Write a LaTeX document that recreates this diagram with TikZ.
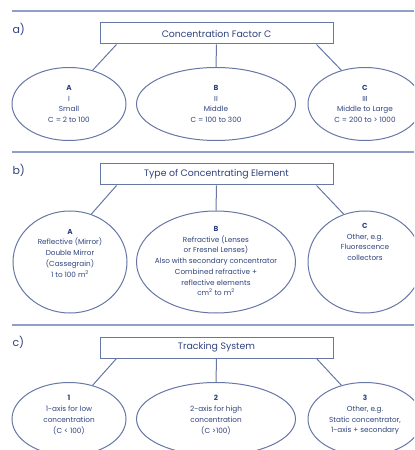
\documentclass[tikz,border=0pt]{standalone}
\usepackage{fontspec}
\setmainfont{Poppins}
\usetikzlibrary{positioning,calc,shapes.geometric}
\definecolor{inkblue}{HTML}{2F427C}
\definecolor{lineblue}{HTML}{6677A5}
\definecolor{ruleblue}{HTML}{8FA0C4}

\begin{document}
\begin{tikzpicture}[x=1bp,y=-1bp,
    headbox/.style={rectangle, draw=lineblue, line width=1bp, fill=white, minimum width=233bp, minimum height=21bp, inner sep=0pt, text=inkblue, font=\fontsize{9.4}{11}\selectfont},
    branch/.style={ellipse, draw=lineblue, line width=1bp, inner sep=0pt},
    itemtext/.style={align=center, text=inkblue, font=\fontsize{7.3}{10.8}\selectfont},
    partlabel/.style={anchor=west, text=inkblue, font=\fontsize{11}{13}\selectfont},
    link/.style={draw=lineblue, line width=1bp}
  ]
    \useasboundingbox (0,0) rectangle (414,450);
    \clip (0,0) rectangle (414,450);

    % Section a
    \draw[line width=1.6bp, ruleblue] (12,11) -- (414,11);
    \node (labA) at (9,29) [partlabel] {a)};
    \node (headA) at (216.5,33.5) [headbox] {Concentration Factor C};
    \node (aA) at (69,104) [branch, minimum width=114bp, minimum height=73bp] {};
    \node (aB) at (216,104) [branch, minimum width=159bp, minimum height=73bp] {};
    \node (aC) at (365,104) [branch, minimum width=114bp, minimum height=73bp] {};
    \node at (aA) [itemtext] {\textbf{A}\\I\\Small\\C = 2 to 100};
    \node at (aB) [itemtext] {\textbf{B}\\II\\Middle\\C = 100 to 300};
    \node at (aC) [itemtext] {\textbf{C}\\III\\Middle to Large\\C = 200 to > 1000};
    \draw[link] ([xshift=17bp]headA.south west) -- (aA.55);
    \draw[link] (headA.south) -- (aB.north);
    \draw[link] ([xshift=-17bp]headA.south east) -- (aC.125);

    % Section b
    \draw[line width=1.6bp, ruleblue] (12,152) -- (414,152);
    \node (labB) at (9,170) [partlabel] {b)};
    \node (headB) at (216.5,174.5) [headbox] {Type of Concentrating Element};
    \node (bA) at (70,262) [branch, minimum width=114bp, minimum height=102bp] {};
    \node (bB) at (216,262) [branch, minimum width=159bp, minimum height=102bp] {};
    \node (bC) at (365,262) [branch, minimum width=114bp, minimum height=102bp] {};
    \node at (70,253) [itemtext] {\textbf{A}\\Reflective (Mirror)\\Double Mirror\\(Cassegrain)\\1 to 100 m\textsuperscript{2}};
    \node at (216,261) [itemtext] {\textbf{B}\\Refractive (Lenses\\or Fresnel Lenses)\\Also with secondary concentrator\\Combined refractive +\\reflective elements\\cm\textsuperscript{2} to m\textsuperscript{2}};
    \node at (365,242) [itemtext] {\textbf{C}\\Other, e.g.\\Fluorescence\\collectors};
    \draw[link] ([xshift=17bp]headB.south west) -- (bA.66);
    \draw[link] (headB.south) -- (bB.north);
    \draw[link] ([xshift=-17bp]headB.south east) -- (bC.114);

    % Section c
    \draw[line width=1.6bp, ruleblue] (12,325) -- (414,325);
    \node (labC) at (9,342) [partlabel] {c)};
    \node (headC) at (216.5,347.5) [headbox] {Tracking System};
    \node (cA) at (69,419) [branch, minimum width=114bp, minimum height=73bp] {};
    \node (cB) at (216,419) [branch, minimum width=159bp, minimum height=73bp] {};
    \node (cC) at (365,419) [branch, minimum width=114bp, minimum height=73bp] {};
    \node at (69,415) [itemtext] {\textbf{1}\\1-axis for low\\concentration\\(C < 100)};
    \node at (216,415) [itemtext] {\textbf{2}\\2-axis for high\\concentration\\(C >100)};
    \node at (365,415) [itemtext] {\textbf{3}\\Other, e.g.\\Static concentrator,\\1-axis + secondary};
    \draw[link] ([xshift=17bp]headC.south west) -- (cA.55);
    \draw[link] (headC.south) -- (cB.north);
    \draw[link] ([xshift=-17bp]headC.south east) -- (cC.125);
  \end{tikzpicture}
\end{document}
